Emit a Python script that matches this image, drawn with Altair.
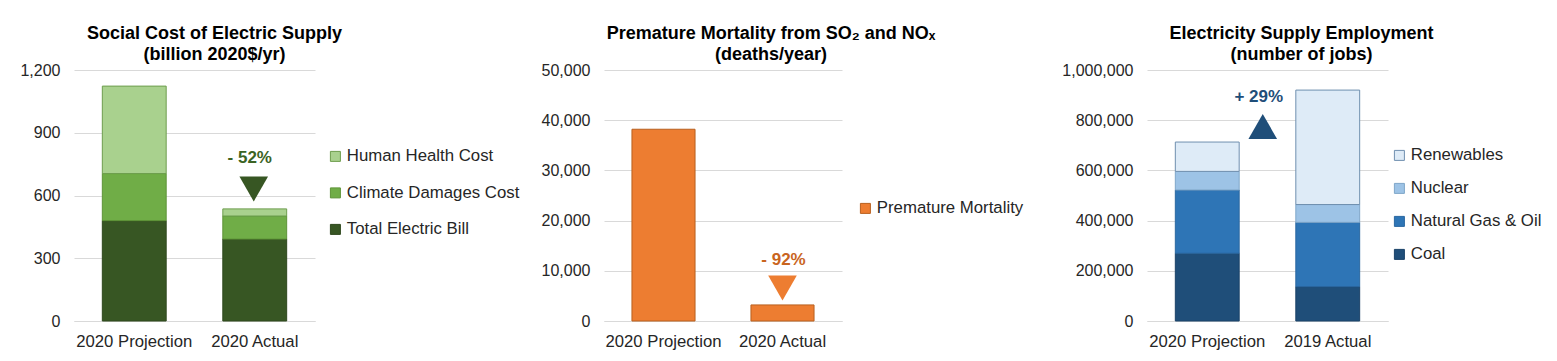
import altair as alt
import pandas as pd

FONT = "Liberation Sans"

# ---------------- Panel 1: Social cost ----------------
p1_categories = ["2020 Projection", "2020 Actual"]
p1_series = ["Human Health Cost", "Climate Damages Cost", "Total Electric Bill"]
p1_bill = [480, 392]
p1_climate = [225, 110]
p1_health = [418, 34]
p1_fill = ["#A9D18E", "#70AD47", "#375623"]
p1_stroke = ["#6E9E4E", "#5E9438", "#2E481D"]
p1_ticks = [0, 300, 600, 900, 1200]
p1_note = ["- 52%"]
p1_note_y = [778]
p1_marker_y = [631]

# ---------------- Panel 2: Mortality ----------------
p2_categories = ["2020 Projection", "2020 Actual"]
p2_series = ["Premature Mortality"]
p2_mortality = [38200, 3200]
p2_ticks = [0, 10000, 20000, 30000, 40000, 50000]
p2_note = ["- 92%"]
p2_note_y = [12100]
p2_marker_y = [6570]

# ---------------- Panel 3: Employment ----------------
p3_categories = ["2020 Projection", "2019 Actual"]
p3_series = ["Renewables", "Nuclear", "Natural Gas & Oil", "Coal"]
p3_coal = [270000, 137000]
p3_gas = [252000, 256000]
p3_nuclear = [74000, 71000]
p3_renew = [117000, 456000]
p3_fill = ["#DEEBF7", "#9DC3E6", "#2E75B6", "#1F4E79"]
p3_stroke = ["#6F8FAF", "#7FA6C9", "#2A67A0", "#1A4268"]
p3_ticks = [0, 200000, 400000, 600000, 800000, 1000000]
p3_note = ["+ 29%"]
p3_note_y = [892600]
p3_marker_y = [775000]

H = 251


def yaxis(ticks, extent):
    return alt.Axis(values=ticks, format=",d", domain=False, ticks=False, grid=True,
                    gridColor="#D9D9D9", gridWidth=1, labelFontSize=16, labelFont=FONT,
                    labelColor="#262626", labelPadding=14, minExtent=extent,
                    maxExtent=extent, title=None)


xaxis = alt.Axis(title=None, labelAngle=0, ticks=False, domain=True, domainColor="#D9D9D9",
                 labelFontSize=16.7, labelFont=FONT, labelColor="#262626", labelPadding=12)


def legend(x, y, row_pad):
    return alt.Legend(orient="none", legendX=x, legendY=y, title=None, symbolType="square",
                      symbolSize=100, symbolStrokeWidth=1, labelFontSize=16.8, labelFont=FONT,
                      labelColor="#262626", rowPadding=row_pad, labelOffset=3, labelLimit=400)


def title(lines, dx):
    return alt.TitleParams(text=lines, fontSize=18, font=FONT, fontWeight="bold",
                           color="#000000", anchor="middle", frame="group", dx=dx,
                           offset=-2, lineHeight=21)


def xenc(cats):
    return alt.X("cat:N", sort=cats, axis=xaxis,
                 scale=alt.Scale(paddingInner=0.47, paddingOuter=0.235))


# Panel 1
rows = []
for i, c in enumerate(p1_categories):
    rows.append({"cat": c, "series": "Total Electric Bill", "value": p1_bill[i], "rank": 0})
    rows.append({"cat": c, "series": "Climate Damages Cost", "value": p1_climate[i], "rank": 1})
    rows.append({"cat": c, "series": "Human Health Cost", "value": p1_health[i], "rank": 2})
df1 = pd.DataFrame(rows)
lg1 = legend(253, 78, 18.5)
bars1 = alt.Chart(df1).mark_bar(strokeWidth=1).encode(
    x=xenc(p1_categories),
    y=alt.Y("value:Q", stack="zero", scale=alt.Scale(domain=[0, 1200]), axis=yaxis(p1_ticks, 58)),
    color=alt.Color("series:N", scale=alt.Scale(domain=p1_series, range=p1_fill), legend=lg1),
    stroke=alt.Stroke("series:N", scale=alt.Scale(domain=p1_series, range=p1_stroke), legend=lg1),
    order=alt.Order("rank:Q", sort="ascending"),
)
n1 = pd.DataFrame({"cat": [p1_categories[1]], "label": p1_note, "y": p1_note_y, "m": p1_marker_y})
txt1 = alt.Chart(n1).mark_text(dx=-5, fontSize=17, fontWeight="bold", font=FONT,
                               color="#3B6324", baseline="middle").encode(
    x=alt.X("cat:N", sort=p1_categories), y="y:Q", text="label:N")
tri1 = alt.Chart(n1).mark_point(shape="triangle-down", filled=True, size=820, opacity=1,
                                color="#375623", xOffset=-1).encode(
    x=alt.X("cat:N", sort=p1_categories), y="m:Q")
panel1 = alt.layer(bars1, txt1, tri1).properties(
    width=241, height=H, title=title(["Social Cost of Electric Supply", "(billion 2020$/yr)"], 20))

# Panel 2
df2 = pd.DataFrame({"cat": p2_categories, "series": p2_series * 2, "value": p2_mortality})
lg2 = legend(253, 130, 20)
bars2 = alt.Chart(df2).mark_bar(strokeWidth=1).encode(
    x=xenc(p2_categories),
    y=alt.Y("value:Q", scale=alt.Scale(domain=[0, 50000]), axis=yaxis(p2_ticks, 70)),
    color=alt.Color("series:N", scale=alt.Scale(domain=p2_series, range=["#ED7D31"]), legend=lg2),
    stroke=alt.Stroke("series:N", scale=alt.Scale(domain=p2_series, range=["#B8601F"]), legend=lg2),
)
n2 = pd.DataFrame({"cat": [p2_categories[1]], "label": p2_note, "y": p2_note_y, "m": p2_marker_y})
txt2 = alt.Chart(n2).mark_text(dx=1, fontSize=17, fontWeight="bold", font=FONT,
                               color="#C9651E", baseline="middle").encode(
    x=alt.X("cat:N", sort=p2_categories), y="y:Q", text="label:N")
tri2 = alt.Chart(n2).mark_point(shape="triangle-down", filled=True, size=820, opacity=1,
                                color="#ED7D31").encode(
    x=alt.X("cat:N", sort=p2_categories), y="m:Q")
panel2 = alt.layer(bars2, txt2, tri2).properties(
    width=238, height=H, title=title(["Premature Mortality from SO\u2082 and NO\u2093", "(deaths/year)"], 48))

# Panel 3
rows = []
for i, c in enumerate(p3_categories):
    rows.append({"cat": c, "series": "Coal", "value": p3_coal[i], "rank": 0})
    rows.append({"cat": c, "series": "Natural Gas & Oil", "value": p3_gas[i], "rank": 1})
    rows.append({"cat": c, "series": "Nuclear", "value": p3_nuclear[i], "rank": 2})
    rows.append({"cat": c, "series": "Renewables", "value": p3_renew[i], "rank": 3})
df3 = pd.DataFrame(rows)
lg3 = legend(244, 77, 15)
bars3 = alt.Chart(df3).mark_bar(strokeWidth=1).encode(
    x=xenc(p3_categories),
    y=alt.Y("value:Q", stack="zero", scale=alt.Scale(domain=[0, 1000000]), axis=yaxis(p3_ticks, 109)),
    color=alt.Color("series:N", scale=alt.Scale(domain=p3_series, range=p3_fill), legend=lg3),
    stroke=alt.Stroke("series:N", scale=alt.Scale(domain=p3_series, range=p3_stroke), legend=lg3),
    order=alt.Order("rank:Q", sort="ascending"),
)
n3 = pd.DataFrame({"cat": [p3_categories[1]], "label": p3_note, "y": p3_note_y, "m": p3_marker_y})
txt3 = alt.Chart(n3).mark_text(dx=-69, fontSize=17, fontWeight="bold", font=FONT,
                               color="#1F4E79", baseline="middle").encode(
    x=alt.X("cat:N", sort=p3_categories), y="y:Q", text="label:N")
tri3 = alt.Chart(n3).mark_point(shape="triangle-up", filled=True, size=820, opacity=1,
                                color="#1F4E79", xOffset=-65).encode(
    x=alt.X("cat:N", sort=p3_categories), y="m:Q")
panel3 = alt.layer(bars3, txt3, tri3).properties(
    width=241, height=H, title=title(["Electricity Supply Employment", "(number of jobs)"], 34))

chart = alt.hconcat(panel1, panel2, panel3, spacing=14).resolve_scale(
    color="independent", stroke="independent", y="independent", x="independent"
).properties(
    padding={"left": 8, "top": 17, "right": 5, "bottom": 5}, background="white"
).configure_view(stroke=None)

chart.save("out.html", embed_options={"renderer": "svg", "actions": False})
